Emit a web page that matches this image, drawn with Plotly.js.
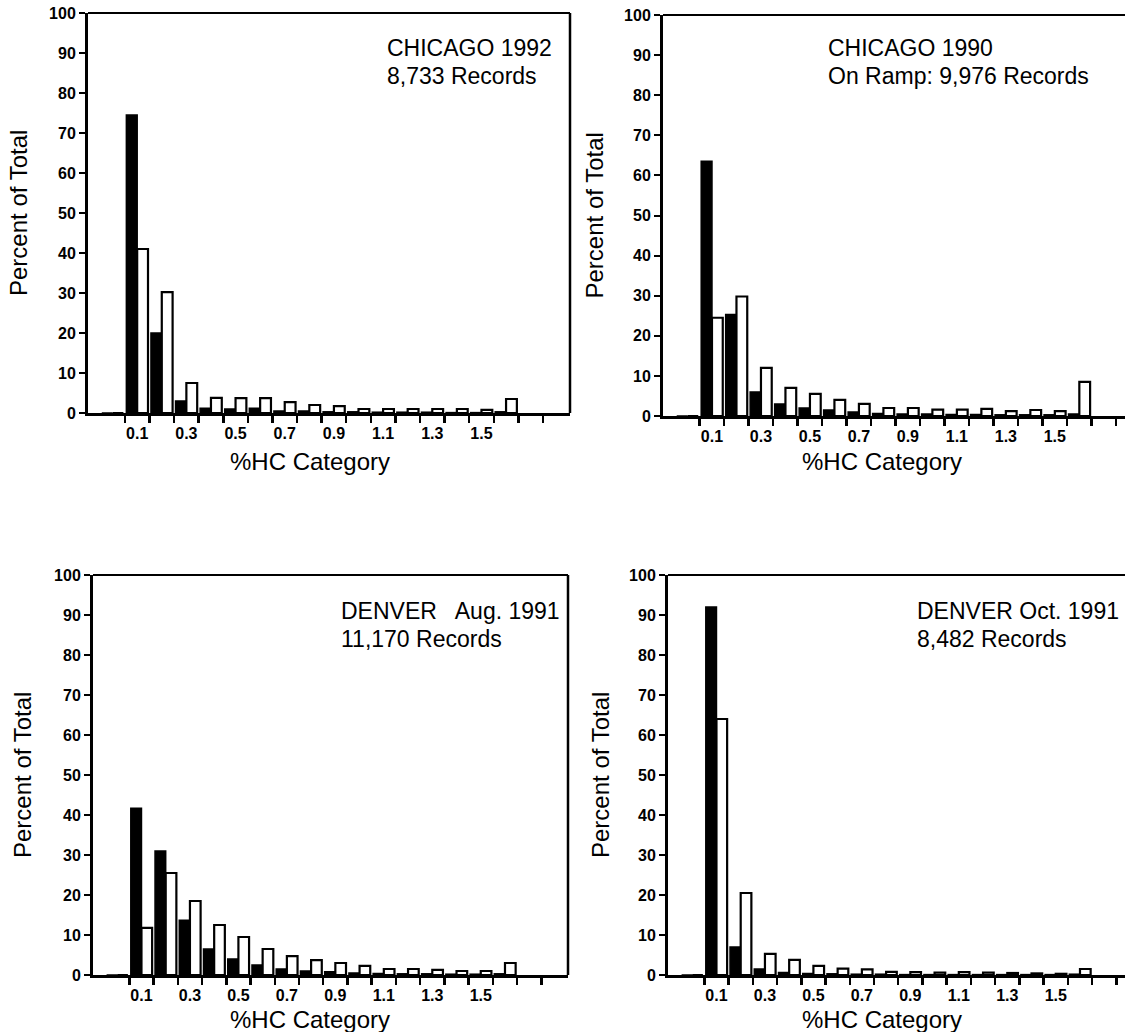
<!DOCTYPE html>
<html>
<head>
<meta charset="utf-8">
<script src="https://cdn.plot.ly/plotly-3.0.1.min.js"></script>
<style>
html, body { margin: 0; padding: 0; overflow: hidden; background: #ffffff; }
#chart { width: 1160px; height: 1032px; }
</style>
</head>
<body>
<div id="chart"></div>
<script>
// ---------- data ----------
const categories = [0.0, 0.1, 0.2, 0.3, 0.4, 0.5, 0.6, 0.7, 0.8, 0.9, 1.0, 1.1, 1.2, 1.3, 1.4, 1.5, 1.6];
const tickValues = [0.1, 0.3, 0.5, 0.7, 0.9, 1.1, 1.3, 1.5];
const tickLabels = ['0.1', '0.3', '0.5', '0.7', '0.9', '1.1', '1.3', '1.5'];
const yTickValues = [0, 10, 20, 30, 40, 50, 60, 70, 80, 90, 100];

const chi92Dark  = [0, 74.5, 20.0, 3.0, 1.2, 1.0, 1.2, 0.5, 0.5, 0.3, 0.3, 0.2, 0.2, 0.2, 0.1, 0.1, 0.3];
const chi92Light = [0, 41.0, 30.2, 7.5, 3.8, 3.7, 3.7, 2.7, 2.0, 1.7, 1.0, 1.0, 1.0, 1.0, 1.0, 0.8, 3.5];

const chi90Dark  = [0, 63.5, 25.3, 6.0, 3.0, 2.0, 1.5, 1.0, 0.6, 0.5, 0.5, 0.4, 0.4, 0.3, 0.3, 0.3, 0.5];
const chi90Light = [0, 24.5, 29.8, 12.0, 7.0, 5.5, 4.0, 3.0, 2.0, 2.0, 1.6, 1.6, 1.8, 1.2, 1.5, 1.2, 8.5];

const denAugDark  = [0, 41.7, 31.0, 13.7, 6.5, 4.0, 2.5, 1.5, 1.0, 0.8, 0.5, 0.4, 0.3, 0.3, 0.2, 0.2, 0.3];
const denAugLight = [0, 11.8, 25.5, 18.5, 12.5, 9.5, 6.5, 4.7, 3.7, 3.0, 2.3, 1.5, 1.5, 1.3, 1.0, 1.0, 3.0];

const denOctDark  = [0, 92.0, 7.0, 1.5, 0.6, 0.4, 0.3, 0.2, 0.2, 0.1, 0.1, 0.1, 0.1, 0.1, 0.1, 0.1, 0.2];
const denOctLight = [0, 64.0, 20.5, 5.3, 3.8, 2.3, 1.6, 1.4, 0.8, 0.7, 0.6, 0.7, 0.6, 0.5, 0.4, 0.3, 1.5];

const panelTitles = [
  ['CHICAGO 1992', '8,733 Records'],
  ['CHICAGO 1990', 'On Ramp: 9,976 Records'],
  ['DENVER\u00a0\u00a0 Aug. 1991', '11,170 Records'],
  ['DENVER Oct. 1991', '8,482 Records']
];
const yTitle = 'Percent of Total';
const xTitle = '%HC Category';

// ---------- layout helpers ----------
const W = 1160, H = 1032;
const fx = x => x / W;
const fy = y => 1 - y / H;
const FONT = '"Liberation Sans", Arial, Helvetica, sans-serif';

const binEdges = categories.map(c => +(c + 0.05).toFixed(2)).concat([1.75]);

const panels = [
  { dark: chi92Dark, light: chi92Light, box: [88, 570, 13, 413], tx: 385, ty: 48, ytx: 18, xtx: 310, xty: 461 },
  { dark: chi90Dark, light: chi90Light, box: [663, 1143, 15, 416], tx: 826, ty: 48, ytx: 594, xtx: 882, xty: 461 },
  { dark: denAugDark, light: denAugLight, box: [93, 568, 575, 975], tx: 339, ty: 611, ytx: 22, xtx: 310, xty: 1019 },
  { dark: denOctDark, light: denOctLight, box: [668, 1143, 575, 975], tx: 915, ty: 611, ytx: 600, xtx: 882, xty: 1019 }
];

const data = [];
const layout = {
  width: W, height: H,
  margin: { l: 0, r: 0, t: 0, b: 0 },
  paper_bgcolor: '#ffffff', plot_bgcolor: '#ffffff',
  showlegend: false,
  barmode: 'group', bargap: 0.12, bargroupgap: 0,
  font: { family: FONT, color: '#000000' },
  annotations: [], shapes: []
};

panels.forEach((p, i) => {
  const n = i + 1;
  const xa = n === 1 ? 'x' : 'x' + n;
  const ya = n === 1 ? 'y' : 'y' + n;
  const xt = 'x' + (n + 4);           // overlay axis carrying the category labels
  data.push({
    type: 'bar', x: categories, y: p.dark, xaxis: xa, yaxis: ya,
    marker: { color: '#000000', line: { color: '#000000', width: 1.5 } },
    hoverinfo: 'x+y'
  });
  data.push({
    type: 'bar', x: categories, y: p.light, xaxis: xa, yaxis: ya,
    marker: { color: '#ffffff', line: { color: '#000000', width: 2.2 } },
    hoverinfo: 'x+y'
  });
  const [x0, x1, y0, y1] = p.box;
  // main axis: frame line + tick marks at the bin boundaries
  layout['xaxis' + (n === 1 ? '' : n)] = {
    domain: [fx(x0), fx(x1)], anchor: ya,
    range: [-0.1, 1.86], fixedrange: true,
    showgrid: false, zeroline: false,
    showline: true, linecolor: '#000000', linewidth: 3,
    tickmode: 'array', tickvals: binEdges, showticklabels: false,
    ticks: 'outside', ticklen: 7, tickwidth: 2.5, tickcolor: '#000000'
  };
  // overlay axis: category labels
  layout['xaxis' + (n + 4)] = {
    domain: [fx(x0), fx(x1)], anchor: ya, overlaying: xa,
    range: [-0.1, 1.86], fixedrange: true,
    showgrid: false, zeroline: false, showline: false,
    tickmode: 'array', tickvals: tickValues, ticktext: tickLabels,
    ticks: '', ticklabelstandoff: 9,
    tickfont: { family: FONT, size: 16, weight: 'bold', color: '#000000' }
  };
  layout['yaxis' + (n === 1 ? '' : n)] = {
    domain: [fy(y1), fy(y0)], anchor: xa,
    range: [0, 100], fixedrange: true,
    showgrid: false, zeroline: false,
    showline: true, linecolor: '#000000', linewidth: 3,
    tickmode: 'array', tickvals: yTickValues,
    ticks: 'outside', ticklen: 6, tickwidth: 2, tickcolor: '#000000',
    tickfont: { family: FONT, size: 16, weight: 'bold', color: '#000000' }
  };
  // empty carrier trace for the overlay label axis
  data.push({ type: 'scatter', mode: 'markers', x: [], y: [], xaxis: xt, yaxis: ya, hoverinfo: 'skip', showlegend: false });
  // top and right frame lines
  layout.shapes.push({ type: 'line', xref: xa + ' domain', yref: ya + ' domain', x0: 0, x1: 1, y0: 1, y1: 1, line: { color: '#000000', width: 2 } });
  layout.shapes.push({ type: 'line', xref: xa + ' domain', yref: ya + ' domain', x0: 1, x1: 1, y0: 0, y1: 1, line: { color: '#000000', width: 2.5 } });

  const t = panelTitles[i];
  layout.annotations.push({ xref: 'paper', yref: 'paper', x: fx(p.tx), y: fy(p.ty), xanchor: 'left', yanchor: 'middle', showarrow: false, text: t[0], font: { family: FONT, size: 23, color: '#000000' } });
  layout.annotations.push({ xref: 'paper', yref: 'paper', x: fx(p.tx), y: fy(p.ty + 28), xanchor: 'left', yanchor: 'middle', showarrow: false, text: t[1], font: { family: FONT, size: 23, color: '#000000' } });
  layout.annotations.push({ xref: 'paper', yref: 'paper', x: fx(p.ytx), y: fy((y0 + y1) / 2), xanchor: 'center', yanchor: 'middle', textangle: -90, showarrow: false, text: yTitle, font: { family: FONT, size: 24, color: '#000000' } });
  layout.annotations.push({ xref: 'paper', yref: 'paper', x: fx(p.xtx), y: fy(p.xty), xanchor: 'center', yanchor: 'middle', showarrow: false, text: xTitle, font: { family: FONT, size: 24, color: '#000000' } });
});

Plotly.newPlot('chart', data, layout, { displayModeBar: false, staticPlot: true });
</script>
</body>
</html>
